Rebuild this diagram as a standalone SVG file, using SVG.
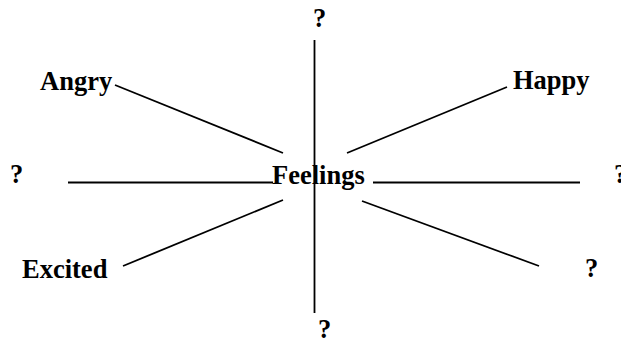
<svg xmlns="http://www.w3.org/2000/svg" width="621" height="341" viewBox="0 0 621 341">
<style>
.t{font-family:"Liberation Serif","Times New Roman",serif;font-weight:bold;font-size:26.5px;fill:#000}
.c line{stroke:#000;stroke-width:1.8}
</style>
<rect width="621" height="341" fill="#fff"/>
<g id="connectors" class="c">
<line x1="314.5" y1="40" x2="314.5" y2="313"/>
<line x1="68" y1="182.5" x2="273" y2="182.5"/>
<line x1="373" y1="182.5" x2="580" y2="182.5"/>
<line x1="115" y1="85" x2="283" y2="153"/>
<line x1="507" y1="87" x2="347" y2="153"/>
<line x1="123" y1="266" x2="283" y2="200"/>
<line x1="362" y1="201" x2="539" y2="266"/>
</g>
<g id="feelings"><text class="t" x="272" y="184">Feelings</text></g>
<g id="q-top"><text class="t" x="313" y="27">?</text></g>
<g id="angry"><text class="t" x="40" y="90">Angry</text></g>
<g id="happy"><text class="t" x="513" y="89">Happy</text></g>
<g id="q-left"><text class="t" x="10" y="183">?</text></g>
<g id="q-right"><text class="t" x="614" y="183">?</text></g>
<g id="excited"><text class="t" x="22" y="278">Excited</text></g>
<g id="q-lowright"><text class="t" x="585" y="277">?</text></g>
<g id="q-bottom"><text class="t" x="318" y="338">?</text></g>
</svg>
